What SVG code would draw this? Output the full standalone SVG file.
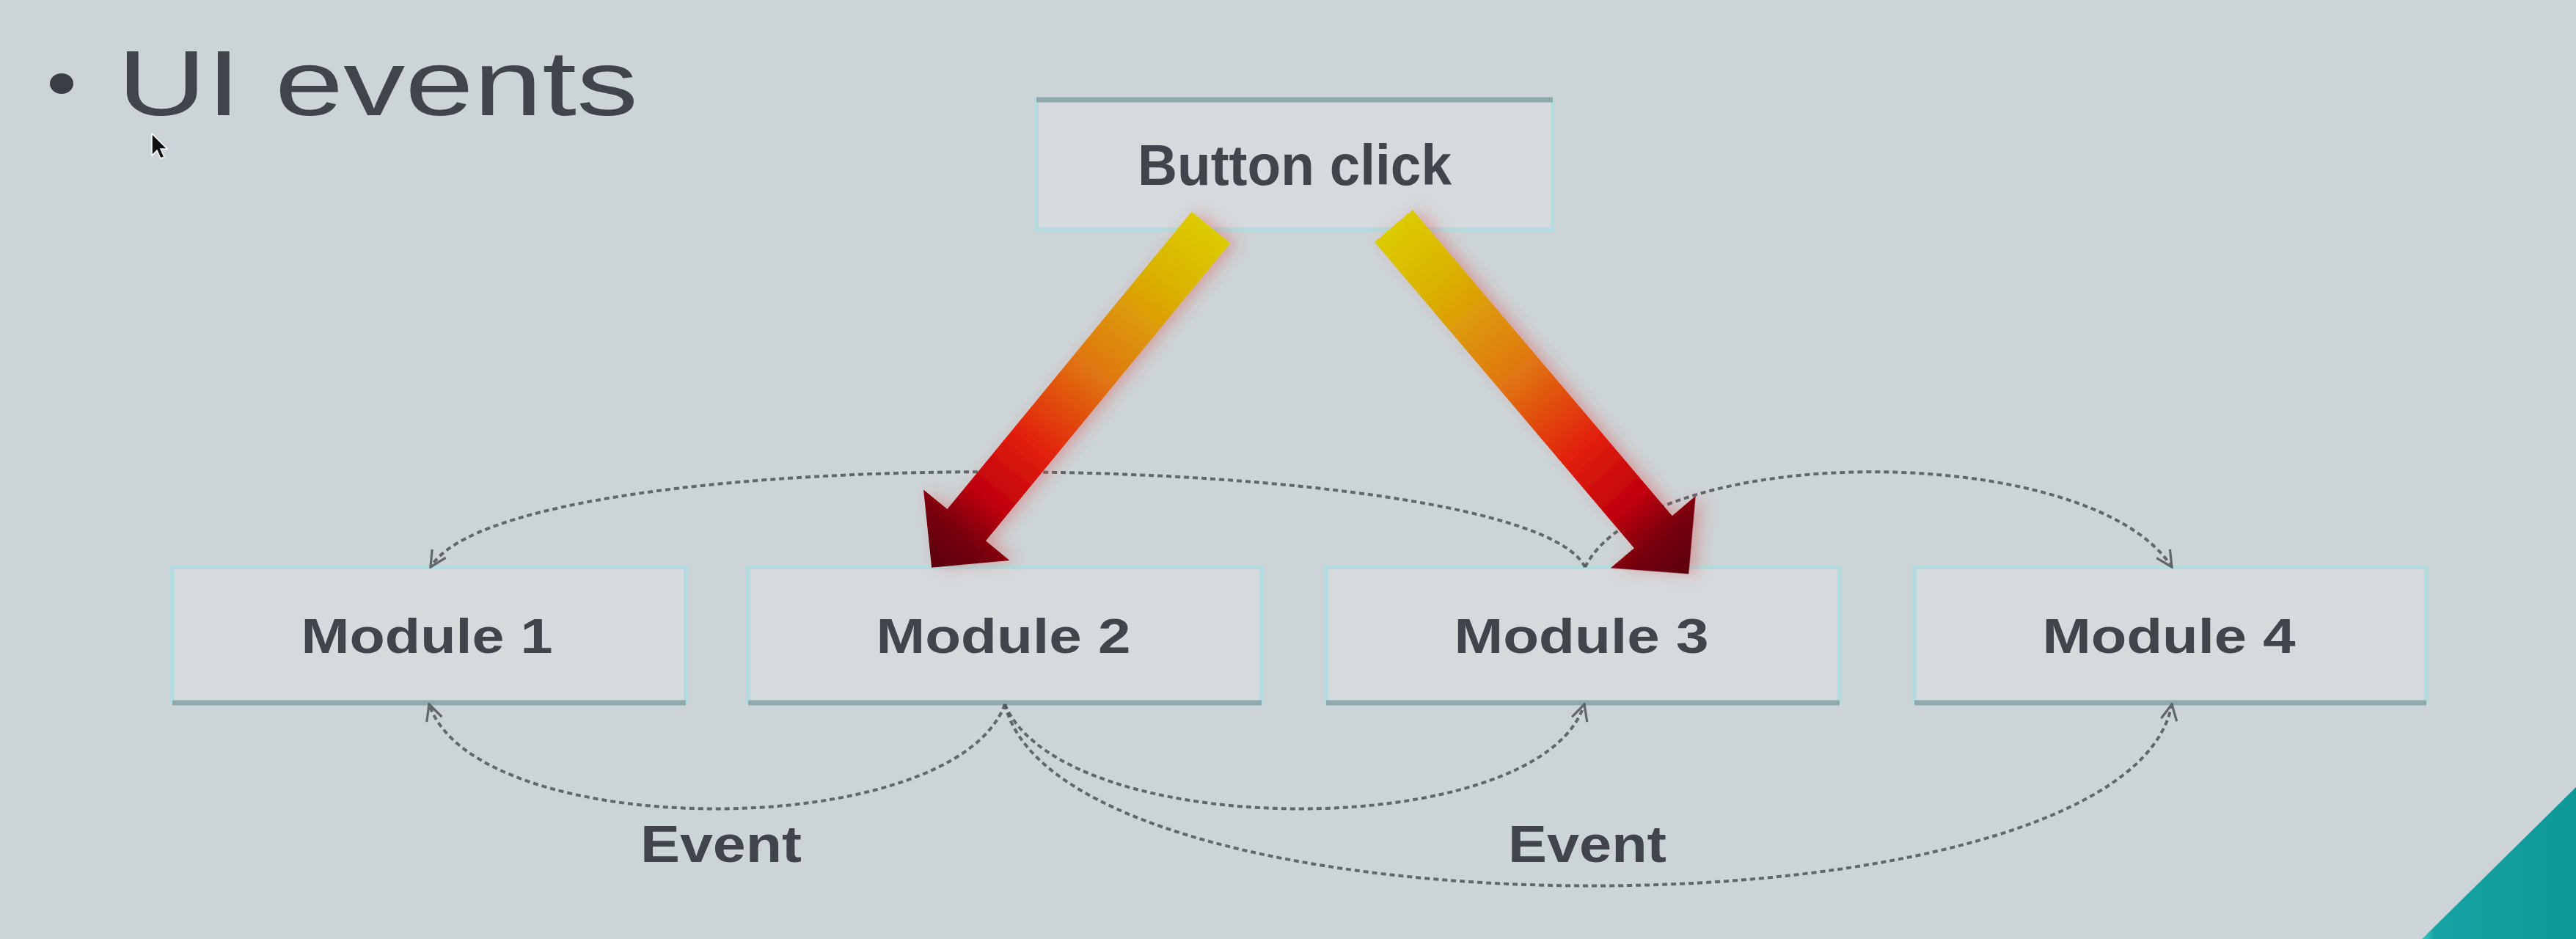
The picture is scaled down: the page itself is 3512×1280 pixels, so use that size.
<svg xmlns="http://www.w3.org/2000/svg" width="3512" height="1280" viewBox="0 0 3512 1280">
<defs>
<style>
.txt{font-family:"Liberation Sans",Arial,sans-serif;fill:#41444b}
.lbl{font-weight:bold}
.box{fill:#d5dadd;stroke:#b5dbde;stroke-width:6}
.shade{stroke:#8fa9ad;stroke-width:7;fill:none}
.dash{fill:none;stroke:#50545a;stroke-width:4;stroke-dasharray:7 5;opacity:0.85}
</style>
<linearGradient id="arrowGrad" x1="0" y1="0" x2="0" y2="1">
<stop offset="0" stop-color="#dccb00"/>
<stop offset="0.15" stop-color="#dab400"/>
<stop offset="0.42" stop-color="#e07612"/>
<stop offset="0.64" stop-color="#e2200e"/>
<stop offset="0.8" stop-color="#c0000c"/>
<stop offset="0.9" stop-color="#780010"/>
<stop offset="1" stop-color="#5a0010"/>
</linearGradient>
<linearGradient id="triGrad" x1="0" y1="0" x2="1" y2="0">
<stop offset="0" stop-color="#3fc6c4"/>
<stop offset="0.08" stop-color="#17a3a3"/>
<stop offset="1" stop-color="#0e9898"/>
</linearGradient>
<filter id="glow" x="-30%" y="-10%" width="160%" height="120%">
<feGaussianBlur in="SourceAlpha" stdDeviation="10" result="b"/>
<feOffset in="b" dx="10" dy="0" result="o"/>
<feFlood flood-color="#e04040" flood-opacity="0.35"/>
<feComposite in2="o" operator="in" result="s"/>
<feMerge><feMergeNode in="s"/><feMergeNode in="SourceGraphic"/></feMerge>
</filter>
<marker id="vhead" viewBox="0 0 12 12" refX="11" refY="6" markerWidth="26" markerHeight="26" markerUnits="userSpaceOnUse" orient="auto">
<path d="M1,1 L11,6 L1,11" fill="none" stroke="#50545a" stroke-width="1.5"/>
</marker>
</defs>
<rect width="3512" height="1280" fill="#cdd4d7"/>

<g id="title">
<ellipse cx="84" cy="114" rx="16" ry="14" fill="#3a3d44"/>
<text class="txt" x="160" y="157" font-size="127" textLength="710" lengthAdjust="spacingAndGlyphs">UI events</text>
</g>

<g id="node-button">
<rect class="box" x="1413" y="136" width="704" height="177"/>
<line class="shade" x1="1413" y1="136" x2="2117" y2="136"/>
<text class="txt lbl" x="1765" y="252" font-size="77" text-anchor="middle" textLength="428" lengthAdjust="spacingAndGlyphs">Button click</text>
</g>

<g id="node-m1">
<rect class="box" x="235" y="773" width="700" height="184"/>
<line class="shade" x1="235" y1="958" x2="935" y2="958"/>
<text class="txt lbl" x="582" y="890" font-size="66" text-anchor="middle" textLength="343" lengthAdjust="spacingAndGlyphs">Module 1</text>
</g>
<g id="node-m2">
<rect class="box" x="1020" y="773" width="700" height="184"/>
<line class="shade" x1="1020" y1="958" x2="1720" y2="958"/>
<text class="txt lbl" x="1368" y="890" font-size="66" text-anchor="middle" textLength="347" lengthAdjust="spacingAndGlyphs">Module 2</text>
</g>
<g id="node-m3">
<rect class="box" x="1808" y="773" width="700" height="184"/>
<line class="shade" x1="1808" y1="958" x2="2508" y2="958"/>
<text class="txt lbl" x="2156" y="890" font-size="66" text-anchor="middle" textLength="347" lengthAdjust="spacingAndGlyphs">Module 3</text>
</g>
<g id="node-m4">
<rect class="box" x="2610" y="773" width="698" height="184"/>
<line class="shade" x1="2610" y1="958" x2="3308" y2="958"/>
<text class="txt lbl" x="2957" y="890" font-size="66" text-anchor="middle" textLength="345" lengthAdjust="spacingAndGlyphs">Module 4</text>
</g>

<g id="connectors">
<path class="dash" d="M2161,773 C2080,610 700,590 587,773" marker-end="url(#vhead)"/>
<path class="dash" d="M2161,773 C2250,600 2850,600 2961,773" marker-end="url(#vhead)"/>
<path class="dash" d="M1370,960 C1300,1150 650,1150 585,960" marker-end="url(#vhead)"/>
<path class="dash" d="M1370,960 C1450,1150 2100,1150 2160,960" marker-end="url(#vhead)"/>
<path class="dash" d="M1370,960 C1450,1290 2900,1290 2961,960" marker-end="url(#vhead)"/>
<g filter="url(#glow)">
<polygon transform="translate(1651,310) rotate(39.4)" points="-34,0 34,0 34,525 76,525 0,600 -76,525 -34,525" fill="url(#arrowGrad)"/>
<polygon transform="translate(1900,308) rotate(-40.3)" points="-34,0 34,0 34,547 76,547 0,622 -76,547 -34,547" fill="url(#arrowGrad)"/>
</g>
<text class="txt lbl" x="873" y="1175" font-size="70" textLength="220" lengthAdjust="spacingAndGlyphs">Event</text>
<text class="txt lbl" x="2056" y="1175" font-size="70" textLength="216" lengthAdjust="spacingAndGlyphs">Event</text>
</g>

<polygon points="3302,1280 3512,1073 3512,1280" fill="url(#triGrad)"/>
<polygon points="207,182 207,212 214,205 219,216 224,214 219,203 228,203" fill="#111" stroke="#fff" stroke-width="1.5"/>
</svg>
